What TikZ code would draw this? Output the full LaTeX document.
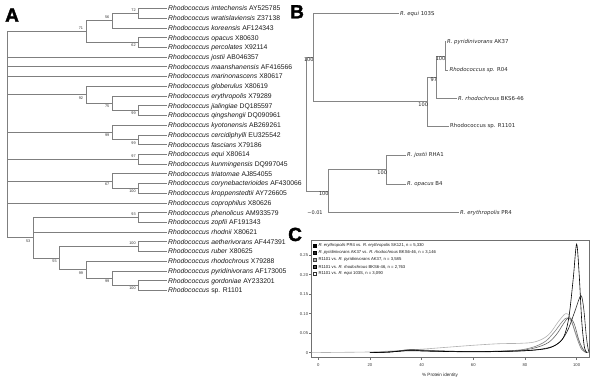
\documentclass[tikz,border=0pt]{standalone}
\usepackage{fontspec}
\setmainfont{Liberation Sans}
\newfontfamily\dejavu{DejaVu Sans}
\newfontfamily\heavyfont[FakeBold=2]{Liberation Sans Bold}
\definecolor{lineA}{HTML}{7F7F7F}
\definecolor{lineB}{HTML}{858585}
\definecolor{frameC}{HTML}{707070}
\newcommand\bootUp[2]{\path (#1) ++(-2.5,-1.2) node[bsA,anchor=south east]{#2};}
\newcommand\bootDn[2]{\path (#1) ++(-2.5,1.2) node[bsA,anchor=north east]{#2};}
\newcommand\bootB[2]{\path (#1) ++(0.5,2.7) node[bsB]{#2};}
\begin{document}
\begin{tikzpicture}[x=1pt,y=-1pt,
  edgeA/.style={draw=lineA, line width=0.7pt},
  leafA/.style={anchor=west, inner sep=1.5pt, text height=4.9pt, text depth=0pt, font=\fontsize{6.8}{7}\selectfont, text=black!90},
  bsA/.style={inner sep=0.3pt, font=\fontsize{3.8}{4}\selectfont, text=black!80},
  edgeB/.style={draw=lineB, line width=0.6pt},
  leafB/.style={anchor=west, inner sep=1pt, text height=3.9pt, text depth=0pt, font=\dejavu\fontsize{5.4}{6}\selectfont, text=black!85},
  bsB/.style={anchor=east, inner sep=0pt, font=\dejavu\fontsize{5}{6}\selectfont, text=black!85},
  panel/.style={font=\heavyfont\fontsize{19}{19}\selectfont, inner sep=0pt, anchor=base west},
  frm/.style={draw=frameC, line width=0.5pt},
  tick/.style={font=\fontsize{4.2}{5}\selectfont, text=black!75, inner sep=0.5pt},
  legtxt/.style={anchor=west, inner sep=0.5pt, font=\fontsize{4.2}{5}\selectfont, text=black!90},
  crv/.style={line width=0.6pt}
]
\useasboundingbox (0,0) rectangle (600,379);
\fill[white] (0,0) rectangle (600,379);

% ---------- Panel letters
\node[panel] (pA) at (5,21.7) {A};
\node[panel] (pB) at (290,18.3) {B};
\node[panel] (pC) at (288,241) {C};

% ---------- Panel A
\node[leafA] (a0) at (166.5,8.5) {\textit{Rhodococcus imtechensis} AY525785};
\node[leafA] (a1) at (166.5,18.22) {\textit{Rhodococcus wratislaviensis} Z37138};
\node[leafA] (a2) at (166.5,27.94) {\textit{Rhodococcus koreensis} AF124343};
\node[leafA] (a3) at (166.5,37.66) {\textit{Rhodococcus opacus} X80630};
\node[leafA] (a4) at (166.5,47.38) {\textit{Rhodococcus percolates} X92114};
\node[leafA] (a5) at (166.5,57.1) {\textit{Rhodococcus jostii} AB046357};
\node[leafA] (a6) at (166.5,66.82) {\textit{Rhodococcus maanshanensis} AF416566};
\node[leafA] (a7) at (166.5,76.54) {\textit{Rhodococcus marinonascens} X80617};
\node[leafA] (a8) at (166.5,86.26) {\textit{Rhodococcus globerulus} X80619};
\node[leafA] (a9) at (166.5,95.98) {\textit{Rhodococcus erythropolis} X79289};
\node[leafA] (a10) at (166.5,105.7) {\textit{Rhodococcus jialingiae} DQ185597};
\node[leafA] (a11) at (166.5,115.42) {\textit{Rhodococcus qingshengii} DQ090961};
\node[leafA] (a12) at (166.5,125.14) {\textit{Rhodococcus kyotonensis} AB269261};
\node[leafA] (a13) at (166.5,134.86) {\textit{Rhodococcus cercidiphylli} EU325542};
\node[leafA] (a14) at (166.5,144.58) {\textit{Rhodococcus fascians} X79186};
\node[leafA] (a15) at (166.5,154.3) {\textit{Rhodococcus equi} X80614};
\node[leafA] (a16) at (166.5,164.02) {\textit{Rhodococcus kunmingensis} DQ997045};
\node[leafA] (a17) at (166.5,173.74) {\textit{Rhodococcus triatomae} AJ854055};
\node[leafA] (a18) at (166.5,183.46) {\textit{Rhodococcus corynebacterioides} AF430066};
\node[leafA] (a19) at (166.5,193.18) {\textit{Rhodococcus kroppenstedtii} AY726605};
\node[leafA] (a20) at (166.5,202.9) {\textit{Rhodococcus coprophilus} X80626};
\node[leafA] (a21) at (166.5,212.62) {\textit{Rhodococcus phenolicus} AM933579};
\node[leafA] (a22) at (166.5,222.34) {\textit{Rhodococcus zopfii} AF191343};
\node[leafA] (a23) at (166.5,232.06) {\textit{Rhodococcus rhodnii} X80621};
\node[leafA] (a24) at (166.5,241.78) {\textit{Rhodococcus aetherivorans} AF447391};
\node[leafA] (a25) at (166.5,251.5) {\textit{Rhodococcus ruber} X80625};
\node[leafA] (a26) at (166.5,261.22) {\textit{Rhodococcus rhodochrous} X79288};
\node[leafA] (a27) at (166.5,270.94) {\textit{Rhodococcus pyridinivorans} AF173005};
\node[leafA] (a28) at (166.5,280.66) {\textit{Rhodococcus gordoniae} AY233201};
\node[leafA] (a29) at (166.5,290.38) {\textit{Rhodococcus} sp. R1101};

\coordinate (n72) at (138.7,13.36);
\coordinate (n56) at (112.3,20.65);
\coordinate (n62) at (138.7,42.52);
\coordinate (n71) at (86,31.59);
\coordinate (n99c) at (138.7,110.56);
\coordinate (n75) at (112.3,103.27);
\coordinate (n92) at (86,94.77);
\coordinate (n99e) at (138.7,139.72);
\coordinate (n99d) at (112.3,132.43);
\coordinate (n97) at (138.7,159.16);
\coordinate (n100a) at (138.7,188.32);
\coordinate (n67) at (112.3,181.03);
\coordinate (n93) at (138.7,217.48);
\coordinate (n100b) at (138.7,246.64);
\coordinate (n100c) at (138.7,285.52);
\coordinate (n99g) at (112.3,278.23);
\coordinate (n99f) at (86,269.73);
\coordinate (n55) at (59.7,258.19);
\coordinate (n53) at (33.3,237.84);
\coordinate (rA) at (7,134.7);

\foreach \c in {n71,a5.west,a6.west,a7.west,n92,n99d,n97,n67,a20.west,n53}
  \draw[edgeA] (rA) |- (\c);
\draw[edgeA] (n71) |- (n56);  \draw[edgeA] (n71) |- (n62);
\draw[edgeA] (n56) |- (n72);  \draw[edgeA] (n56) |- (a2.west);
\draw[edgeA] (n72) |- (a0.west); \draw[edgeA] (n72) |- (a1.west);
\draw[edgeA] (n62) |- (a3.west); \draw[edgeA] (n62) |- (a4.west);
\draw[edgeA] (n92) |- (a8.west); \draw[edgeA] (n92) |- (n75);
\draw[edgeA] (n75) |- (a9.west); \draw[edgeA] (n75) |- (n99c);
\draw[edgeA] (n99c) |- (a10.west); \draw[edgeA] (n99c) |- (a11.west);
\draw[edgeA] (n99d) |- (a12.west); \draw[edgeA] (n99d) |- (n99e);
\draw[edgeA] (n99e) |- (a13.west); \draw[edgeA] (n99e) |- (a14.west);
\draw[edgeA] (n97) |- (a15.west); \draw[edgeA] (n97) |- (a16.west);
\draw[edgeA] (n67) |- (a17.west); \draw[edgeA] (n67) |- (n100a);
\draw[edgeA] (n100a) |- (a18.west); \draw[edgeA] (n100a) |- (a19.west);
\draw[edgeA] (n53) |- (n93); \draw[edgeA] (n53) |- (a23.west); \draw[edgeA] (n53) |- (n55);
\draw[edgeA] (n93) |- (a21.west); \draw[edgeA] (n93) |- (a22.west);
\draw[edgeA] (n55) |- (n100b); \draw[edgeA] (n55) |- (n99f);
\draw[edgeA] (n100b) |- (a24.west); \draw[edgeA] (n100b) |- (a25.west);
\draw[edgeA] (n99f) |- (a26.west); \draw[edgeA] (n99f) |- (n99g);
\draw[edgeA] (n99g) |- (a27.west); \draw[edgeA] (n99g) |- (n100c);
\draw[edgeA] (n100c) |- (a28.west); \draw[edgeA] (n100c) |- (a29.west);

\bootUp{n72}{72} \bootUp{n56}{56} \bootUp{n71}{71} \bootDn{n62}{62}
\bootDn{n92}{92} \bootDn{n75}{75} \bootDn{n99c}{99}
\bootDn{n99d}{99} \bootDn{n99e}{99} \bootUp{n97}{97}
\bootDn{n67}{67} \bootDn{n100a}{100}
\bootUp{n93}{93} \bootUp{n100b}{100} \bootDn{n53}{53} \bootDn{n55}{55}
\bootDn{n99f}{99} \bootDn{n99g}{99} \bootDn{n100c}{100}

% ---------- Panel B
\node[leafB] (b1) at (399,13.3) {\textit{R. equi} 103S};
\node[leafB] (b2) at (445.8,41.7) {\textit{R. pyridinivorans} AK37};
\node[leafB] (b3) at (448.3,70) {\textit{Rhodococcus sp.} R04};
\node[leafB] (b4) at (457,98.3) {\textit{R. rhodochrous} BKS6-46};
\node[leafB] (b5) at (449,126) {Rhodococcus sp. R1101};
\node[leafB] (b6) at (406,155) {\textit{R. jostii} RHA1};
\node[leafB] (b7) at (406,184) {\textit{R. opacus} B4};
\node[leafB] (b8) at (459,212.7) {\textit{R. erythropolis} PR4};
\node[inner sep=0pt, font=\dejavu\fontsize{5}{6}\selectfont, text=black!85] (scl) at (315,212.7) {−0.01};

\coordinate (rB) at (306.7,124.3);
\coordinate (nB1) at (313.3,57.4);
\coordinate (nB2) at (427.7,101.5);
\coordinate (nB3) at (436.7,77.1);
\coordinate (nB4) at (445,55.85);
\coordinate (nB5) at (328.3,191.1);
\coordinate (nB6) at (386.7,169.5);

\draw[edgeB] (rB) |- (nB1); \draw[edgeB] (rB) |- (nB5);
\draw[edgeB] (nB1) |- (b1.west); \draw[edgeB] (nB1) |- (nB2);
\draw[edgeB] (nB2) |- (nB3); \draw[edgeB] (nB2) |- (b5.west);
\draw[edgeB] (nB3) |- (nB4); \draw[edgeB] (nB3) |- (b4.west);
\draw[edgeB] (nB4) |- (b2.west); \draw[edgeB] (nB4) |- (b3.west);
\draw[edgeB] (nB5) |- (nB6); \draw[edgeB] (nB5) |- (b8.west);
\draw[edgeB] (nB6) |- (b6.west); \draw[edgeB] (nB6) |- (b7.west);

\bootB{nB1}{100} \bootB{nB2}{100} \bootB{nB3}{97}
\bootB{nB4}{100} \bootB{nB5}{100} \bootB{nB6}{100}

% ---------- Panel C
\draw[frm] (311.7,240) rectangle (589.3,357.7);
\foreach \v/\l in {0/0,0.05/0.05,0.1/0.10,0.15/0.15,0.2/0.20,0.25/0.25}{
  \draw[frm] (309,{352.7-\v*390.6}) -- (311.7,{352.7-\v*390.6});
  \node[tick,anchor=east] at (308.8,{352.7-\v*390.6}) {\l};
}
\foreach \v in {0,20,40,60,80,100}{
  \draw[frm] ({318.3+\v*2.583},357.7) -- ({318.3+\v*2.583},360.3);
  \node[tick] at ({318.3+\v*2.583},365) {\v};
}
\node[font=\fontsize{4.6}{5}\selectfont, text=black!85, inner sep=0pt] (xlab) at (440,375.7) {\% Protein identity};

\begin{scope}
\clip (311.7,240) rectangle (589.3,357.7);
\begin{scope}[shift={(318.3,352.7)}, x=2.583pt, y=390.6pt]
\draw[crv, black!30] plot[smooth, tension=0.6] coordinates {(-5,0) (10,0.001) (20,0.002) (30,0.005) (40,0.009) (50,0.014) (60,0.019) (70,0.023) (78,0.024) (84,0.028) (89,0.045) (93,0.08) (95.8,0.10) (97.5,0.09) (100,0.045) (102.5,0.008) (105,0)};
\draw[crv, gray] plot[smooth, tension=0.6] coordinates {(20,0) (28,0.002) (35,0.007) (40,0.006) (50,0.004) (60,0.003) (70,0.004) (80,0.009) (87,0.025) (91,0.05) (94.5,0.08) (96.3,0.089) (98,0.08) (100,0.04) (102,0.008) (104,0)};
\draw[crv, black!60] plot[smooth, tension=0.6] coordinates {(20,0) (28,0.002) (35,0.008) (40,0.007) (50,0.004) (60,0.003) (70,0.004) (80,0.007) (88,0.022) (92,0.045) (95,0.075) (97,0.09) (99,0.075) (101,0.03) (103,0.004) (104.5,0)};
\draw[crv, black!85] plot[smooth, tension=0.6] coordinates {(20,0) (28,0.002) (35,0.006) (45,0.004) (60,0.003) (75,0.004) (85,0.008) (92,0.02) (96,0.05) (99,0.1) (101,0.138) (101.9,0.145) (102.8,0.11) (103.8,0.04) (104.7,0.003) (105.5,0)};
\draw[crv, black] plot[smooth, tension=0.5] coordinates {(20,0) (28,0.002) (35,0.005) (42,0.004) (50,0.003) (60,0.002) (70,0.003) (80,0.005) (88,0.01) (92,0.02) (95,0.04) (97,0.09) (98.7,0.19) (100,0.278) (101,0.2) (102,0.08) (103,0.015) (104,0)};
\end{scope}
\end{scope}

% legend
\filldraw[fill=black, draw=black, line width=0.3pt] (312.9,244.3) rectangle (315.9,247.3);
\filldraw[fill=black!85, draw=black, line width=0.3pt] (312.9,251.3) rectangle (315.9,254.3);
\filldraw[fill=gray!60, draw=black!75, line width=0.3pt] (312.9,258.3) rectangle (315.9,261.3);
\filldraw[fill=black!65, draw=black, line width=0.3pt] (312.9,265.3) rectangle (315.9,268.3);
\filldraw[fill=white, draw=black!80, line width=0.3pt] (312.9,272.1) rectangle (315.9,275.1);
\node[legtxt] (l1) at (317.8,245.8) {\textit{R. erythropolis} PR4 vs. \textit{R. erythropolis} SK121, n = 5,330};
\node[legtxt] (l2) at (317.8,252.8) {\textit{R. pyridinivorans} AK37 vs. \textit{R. rhodochrous} BKS6-46, n = 3,146};
\node[legtxt] (l3) at (317.8,259.8) {R1101 vs. \textit{R. pyridinivorans} AK37, n = 3,585};
\node[legtxt] (l4) at (317.8,266.8) {R1101 vs. \textit{R. rhodochrous} BKS6-46, n = 2,763};
\node[legtxt] (l5) at (317.8,273.6) {R1101 vs. \textit{R. equi} 103S, n = 3,090};
\end{tikzpicture}
\end{document}
